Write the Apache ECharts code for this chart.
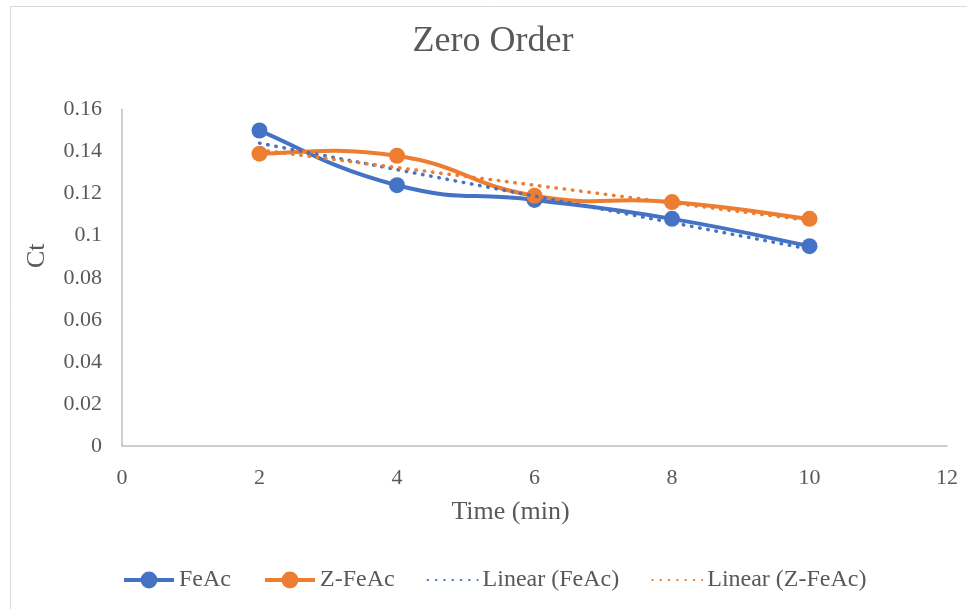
<!DOCTYPE html>
<html>
<head>
<meta charset="utf-8">
<script src="https://cdn.jsdelivr.net/npm/echarts@6/dist/echarts.min.js"></script>
<style>html,body{margin:0;padding:0;background:#fff;}#c{width:967px;height:609px;}</style>
</head>
<body>
<div id="c"></div>
<script>
const times = [2, 4, 6, 8, 10];
const feac = [0.150, 0.124, 0.117, 0.108, 0.095];
const zfeac = [0.139, 0.138, 0.119, 0.116, 0.108];
const xTicks = [0, 2, 4, 6, 8, 10, 12];
const yTicks = [0, 0.02, 0.04, 0.06, 0.08, 0.1, 0.12, 0.14, 0.16];

function linearFit(xs, ys) {
  const n = xs.length;
  const mx = xs.reduce((a, b) => a + b, 0) / n;
  const my = ys.reduce((a, b) => a + b, 0) / n;
  let sxy = 0, sxx = 0;
  for (let i = 0; i < n; i++) { sxy += (xs[i] - mx) * (ys[i] - my); sxx += (xs[i] - mx) ** 2; }
  const b = sxy / sxx, a = my - b * mx;
  const x0 = xs[0], x1 = xs[n - 1];
  return [[x0, a + b * x0], [x1, a + b * x1]];
}

const BLUE = '#4472C4', ORANGE = '#ED7D31', TXT = '#595959', FONT = '"Liberation Serif", "Times New Roman", serif';
const pair = (ys) => times.map((t, i) => [t, ys[i]]);
const TENSION = 0.25;

// Smoothed (Excel-like, unclamped cardinal spline) curve drawn segment by segment
function smoothSeries(name, ys, color) {
  const pts = pair(ys);
  const n = pts.length;
  return {
    name: name, type: 'custom', data: pts, z: 2, silent: true,
    renderItem: function (params, api) {
      const i = params.dataIndex;
      if (i >= n - 1) return null;
      const p = k => api.coord(pts[Math.max(0, Math.min(n - 1, k))]);
      const p0 = p(i - 1), p1 = p(i), p2 = p(i + 1), p3 = p(i + 2);
      return {
        type: 'bezierCurve',
        shape: {
          x1: p1[0], y1: p1[1], x2: p2[0], y2: p2[1],
          cpx1: p1[0] + (p2[0] - p0[0]) * TENSION, cpy1: p1[1] + (p2[1] - p0[1]) * TENSION,
          cpx2: p2[0] - (p3[0] - p1[0]) * TENSION, cpy2: p2[1] - (p3[1] - p1[1]) * TENSION
        },
        style: { stroke: color, lineWidth: 4, fill: null, lineCap: 'round' }
      };
    }
  };
}

const chart = echarts.init(document.getElementById('c'), null, { renderer: 'canvas' });
chart.setOption({
  backgroundColor: '#fff',
  animation: false,
  graphic: [{
    type: 'rect', shape: { x: 10.5, y: 6.5, width: 1000, height: 700 },
    style: { fill: 'none', stroke: '#d9d9d9', lineWidth: 1 }, silent: true, z: -1
  }],
  title: {
    text: 'Zero Order', left: 488, textAlign: 'center', top: 19,
    textStyle: { fontFamily: FONT, fontSize: 36, fontWeight: 'normal', color: TXT }
  },
  legend: {
    left: 117, top: 563, itemWidth: 50, itemHeight: 21, itemGap: 32,
    textStyle: { fontFamily: FONT, fontSize: 24, color: TXT },
    data: [
      { name: 'FeAc', lineStyle: { opacity: 1, color: BLUE, width: 4 } },
      { name: 'Z-FeAc', lineStyle: { opacity: 1, color: ORANGE, width: 4 } },
      { name: 'Linear (FeAc)', itemStyle: { opacity: 0 } },
      { name: 'Linear (Z-FeAc)', itemStyle: { opacity: 0 } }
    ]
  },
  grid: { left: 122, right: 20, top: 109.5, bottom: 163, containLabel: false },
  xAxis: {
    type: 'value', min: xTicks[0], max: xTicks[xTicks.length - 1], interval: 2,
    name: 'Time (min)', nameLocation: 'middle', nameGap: 53,
    nameTextStyle: { fontFamily: FONT, fontSize: 26, color: TXT, padding: [0, 48, 0, 0] },
    axisLine: { show: true, lineStyle: { color: '#bfbfbf', width: 1.5 } },
    axisTick: { show: false }, splitLine: { show: false },
    axisLabel: { fontFamily: FONT, fontSize: 22, color: TXT, margin: 21 }
  },
  yAxis: {
    type: 'value', min: yTicks[0], max: yTicks[yTicks.length - 1], interval: 0.02,
    name: 'Ct', nameLocation: 'middle', nameGap: 72,
    nameTextStyle: { fontFamily: FONT, fontSize: 26, color: TXT, padding: [0, 0, 0, 44] },
    axisLine: { show: true, lineStyle: { color: '#bfbfbf', width: 1.5 } },
    axisTick: { show: false }, splitLine: { show: false },
    axisLabel: { fontFamily: FONT, fontSize: 22, color: TXT, margin: 20 }
  },
  series: [
    {
      name: 'FeAc', type: 'line', data: pair(feac),
      symbol: 'circle', symbolSize: 16, z: 3,
      lineStyle: { color: BLUE, width: 4, opacity: 0 }, itemStyle: { color: BLUE }
    },
    {
      name: 'Z-FeAc', type: 'line', data: pair(zfeac),
      symbol: 'circle', symbolSize: 16, z: 3,
      lineStyle: { color: ORANGE, width: 4, opacity: 0 }, itemStyle: { color: ORANGE }
    },
    smoothSeries('FeAc', feac, BLUE),
    smoothSeries('Z-FeAc', zfeac, ORANGE),
    {
      name: 'Linear (FeAc)', type: 'line', data: linearFit(times, feac), symbol: 'none', z: 4,
      lineStyle: { color: BLUE, width: 3.5, type: [0.5, 7.8], cap: 'round' }, itemStyle: { color: BLUE }
    },
    {
      name: 'Linear (Z-FeAc)', type: 'line', data: linearFit(times, zfeac), symbol: 'none', z: 4,
      lineStyle: { color: ORANGE, width: 3.5, type: [0.5, 7.8], cap: 'round' }, itemStyle: { color: ORANGE }
    }
  ]
});
</script>
</body>
</html>
